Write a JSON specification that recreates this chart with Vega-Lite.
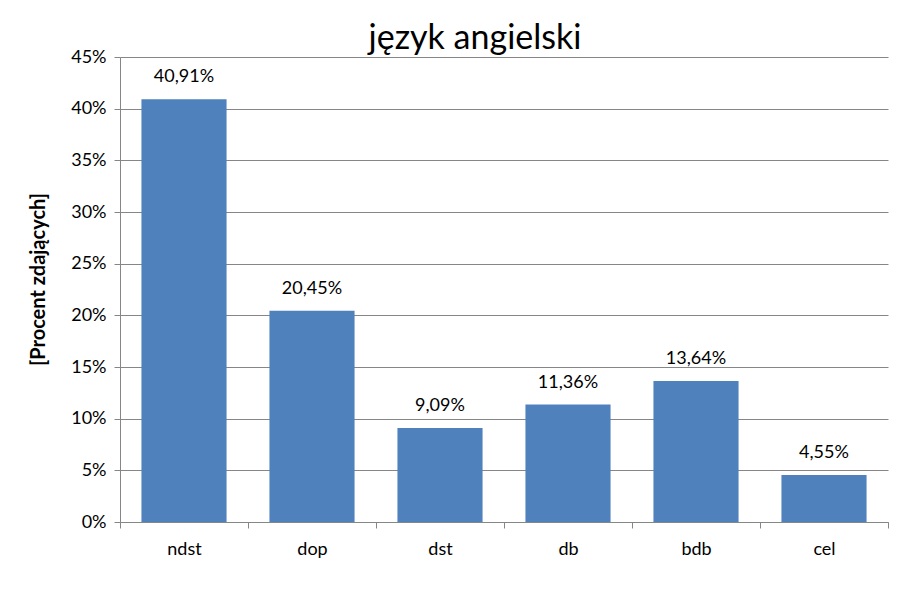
{
  "$schema": "https://vega.github.io/schema/vega-lite/v6.json",
  "autosize": "none",
  "width": 768,
  "height": 465,
  "padding": {"left": 120, "top": 57, "right": 24, "bottom": 74},
  "background": "white",
  "config": {
    "locale": {"number": {"decimal": ",", "thousands": " ", "grouping": [3], "currency": ["", " zł"]}},
    "font": "Lato",
    "view": {"stroke": null}
  },
  "title": {
    "text": "język angielski",
    "fontSize": 34,
    "fontWeight": "normal",
    "font": "Lato",
    "color": "black",
    "anchor": "middle",
    "dx": -29,
    "offset": -8
  },
  "data": {
    "values": [
      {"kategoria": "ndst", "procent": 0.4091},
      {"kategoria": "dop", "procent": 0.2045},
      {"kategoria": "dst", "procent": 0.0909},
      {"kategoria": "db", "procent": 0.1136},
      {"kategoria": "bdb", "procent": 0.1364},
      {"kategoria": "cel", "procent": 0.0455}
    ]
  },
  "encoding": {
    "x": {
      "field": "kategoria",
      "type": "nominal",
      "sort": null,
      "scale": {"paddingInner": 0, "paddingOuter": 0},
      "axis": {
        "title": null,
        "labelAngle": 0,
        "labelFontSize": 18,
        "labelColor": "black",
        "labelPadding": 12,
        "tickBand": "extent",
        "tickSize": 6,
        "tickColor": "#868686",
        "domainColor": "#868686",
        "grid": false
      }
    },
    "y": {
      "field": "procent",
      "type": "quantitative",
      "scale": {"domain": [0, 0.45], "nice": false},
      "axis": {
        "title": "[Procent zdających]",
        "titleFontSize": 20,
        "titleFontWeight": "bold",
        "titleColor": "black",
        "titlePadding": 22,
        "titleY": 222,
        "format": ".0%",
        "values": [0, 0.05, 0.1, 0.15, 0.2, 0.25, 0.3, 0.35, 0.4, 0.45],
        "labelFontSize": 18,
        "labelColor": "black",
        "labelPadding": 8,
        "tickSize": 6,
        "tickColor": "#868686",
        "domainColor": "#868686",
        "gridColor": "#868686",
        "gridWidth": 1
      }
    }
  },
  "layer": [
    {"mark": {"type": "bar", "color": "#4F81BD", "width": {"band": 0.665}}},
    {
      "mark": {"type": "text", "baseline": "bottom", "dy": -13, "fontSize": 18, "color": "black"},
      "encoding": {"text": {"field": "procent", "type": "quantitative", "format": ".2%"}}
    }
  ]
}
